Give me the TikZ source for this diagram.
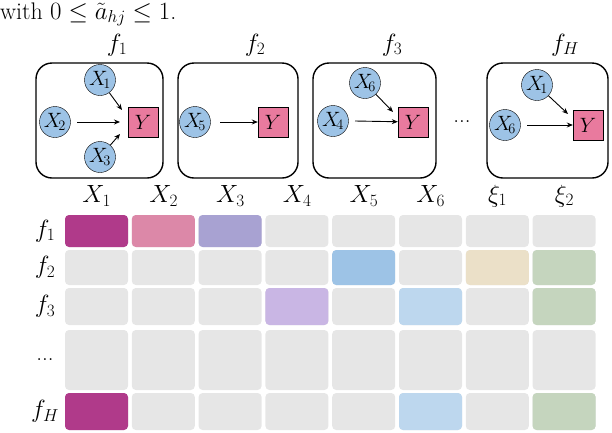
\documentclass[tikz,border=0pt]{standalone}
\usepackage{amsmath,amssymb}
\usetikzlibrary{arrows.meta}
\definecolor{vb}{HTML}{9DC3E6}
\definecolor{yp}{HTML}{E97A9E}
\definecolor{gc}{HTML}{E6E6E6}
\definecolor{c1}{HTML}{B03A8A}
\definecolor{c2}{HTML}{DC88A8}
\definecolor{c3}{HTML}{A8A2D2}
\definecolor{c5}{HTML}{9DC3E6}
\definecolor{cx}{HTML}{EBE0C8}
\definecolor{cg}{HTML}{C5D5BE}
\definecolor{c4}{HTML}{C9B6E4}
\definecolor{c6}{HTML}{BDD7EE}
\begin{document}
\begin{tikzpicture}[x=1pt,y=-1pt,
  fbox/.style={draw,line width=1.4pt,rounded corners=16pt},
  var/.style={circle,draw,fill=vb,minimum size=31pt,inner sep=0pt,font=\fontsize{22}{22}\selectfont},
  yy/.style={draw,fill=yp,minimum size=30pt,inner sep=0pt,font=\fontsize{22}{22}\selectfont},
  lab/.style={font=\fontsize{23}{23}\selectfont},
  ar/.style={-{Stealth[length=6pt,width=5pt]},line width=0.9pt}]
\useasboundingbox (0,0) rectangle (612,432);
\node[anchor=base west,inner sep=0,font=\fontsize{24}{24}\selectfont] (t) at (0,19) {with $0\leq\tilde a_{hj}\leq 1$.};
% boxes
\draw[fbox] (36,63) rectangle (163,178);
\draw[fbox] (178,63) rectangle (298,178);
\draw[fbox] (313,63) rectangle (436,178);
\draw[fbox] (487,63) rectangle (608,178);
\node[lab] (l1) at (117,45) {$f_1$};
\node[lab] (l2) at (255,45) {$f_2$};
\node[lab] (l3) at (392,45) {$f_3$};
\node[lab] (lH) at (565,45) {$f_H$};
% f1
\node[var] (a1) at (100,80) {$X_{\!1}$};
\node[var] (a2) at (55,122) {$X_{\!2}$};
\node[var] (a3) at (100,157) {$X_{\!3}$};
\node[yy] (ay) at (143,122) {$Y$};
\draw[ar] (a1) -- (122,110);
\draw[ar] (77,122) -- (120,122);
\draw[ar] (a3) -- (120,134);
% f2
\node[var] (b5) at (195,122) {$X_{\!5}$};
\node[yy] (by) at (273,122) {$Y$};
\draw[ar] (b5) ++(25,0) -- (by);
% f3
\node[var] (c6n) at (365,83) {$X_{\!6}$};
\node[var] (c4n) at (333,121) {$X_{\!4}$};
\node[yy] (cy) at (413,122) {$Y$};
\draw[ar] (c6n) -- (393,112);
\draw[ar] (c4n) ++(22,0) -- (cy);
\node[lab] (dots) at (462,122) {...};
% fH
\node[var] (h1) at (537,85) {$X_{\!1}$};
\node[var] (h6) at (505,125) {$X_{\!6}$};
\node[yy] (hy) at (588,125) {$Y$};
\draw[ar] (h1) -- (568,114);
\draw[ar] (h6) ++(22,0) -- (hy);
% grid
\foreach \n [count=\i] in {X_1,X_2,X_3,X_4,X_5,X_6,\xi_1,\xi_2}
  \node[lab] (cl\i) at (30+\i*66.8,196) {$\n$};
\foreach \r/\ya/\yb/\lbl in {1/215/247/f_1,2/250/285/f_2,3/288/325/f_3,4/330/390/\text{...},5/393/430/f_H}{
  \node[lab] (rl\r) at (45,{(\ya+\yb)/2}) {$\lbl$};
  \foreach \i in {1,...,8}
    \fill[gc,rounded corners=4pt] ({-1.8+\i*66.8},\ya) rectangle ++(63,\yb-\ya);
}
\def\cel#1#2#3#4#5{\fill[#5,rounded corners=4pt] ({-1.8+#1*66.8},#2) rectangle ++(63,#3-#2);}
\cel{1}{215}{247}{}{c1}\cel{2}{215}{247}{}{c2}\cel{3}{215}{247}{}{c3}
\cel{5}{250}{285}{}{c5}\cel{7}{250}{285}{}{cx}\cel{8}{250}{285}{}{cg}
\cel{4}{288}{325}{}{c4}\cel{6}{288}{325}{}{c6}\cel{8}{288}{325}{}{cg}
\cel{1}{393}{430}{}{c1}\cel{6}{393}{430}{}{c6}\cel{8}{393}{430}{}{cg}
\end{tikzpicture}
\end{document}
